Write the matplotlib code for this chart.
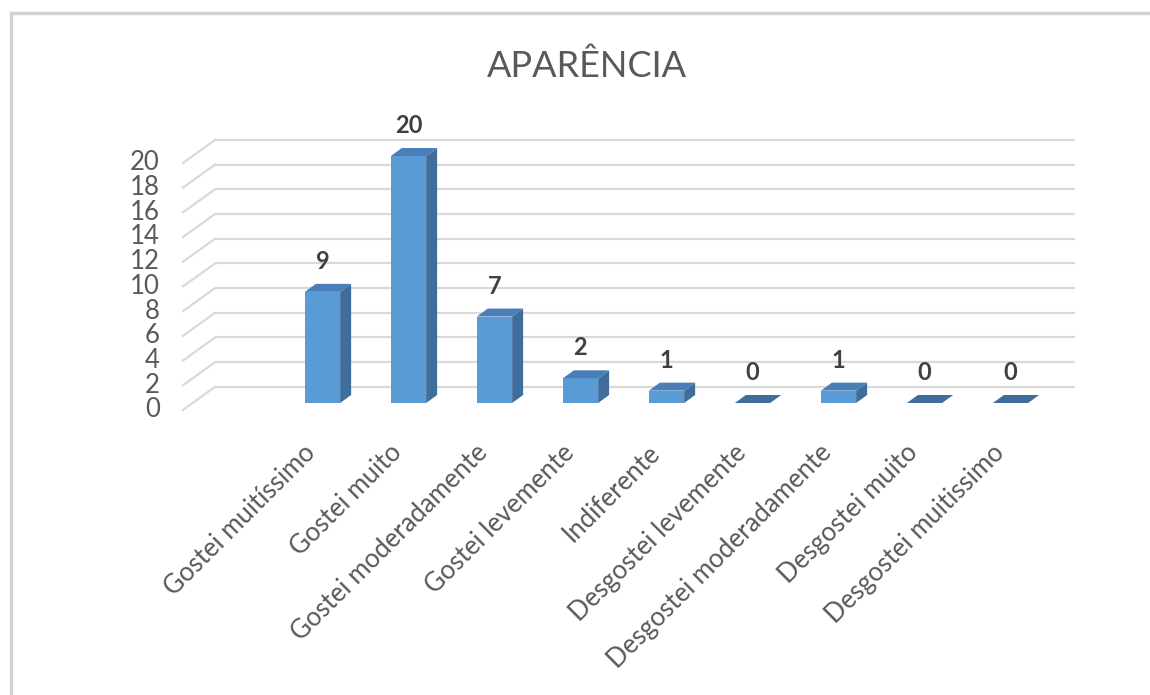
import matplotlib.pyplot as plt
from matplotlib.lines import Line2D
from matplotlib.patches import Polygon, Rectangle

plt.rcParams['font.family'] = ['Lato', 'DejaVu Sans']

categorias = [
    'Gostei muitíssimo', 'Gostei muito', 'Gostei moderadamente',
    'Gostei levemente', 'Indiferente', 'Desgostei levemente',
    'Desgostei moderadamente', 'Desgostei muito', 'Desgostei muitissimo',
]
respostas = [9, 20, 7, 2, 1, 0, 1, 0, 0]
y_ticks = list(range(0, 21, 2))

# escala: 1 categoria = 86 px, 1 unidade = 12.35 px
px_x = 86.0
px_y = 12.35
# profundidade da barra e da parede (em unidades de dados)
bar_dx, bar_dy = 11 / px_x, 8 / px_y
wall_dx, wall_dy = 22.4 / px_x, 16.1 / px_y
front_dx, front_dy = -9.6 / px_x, -6.9 / px_y
wall_x0, wall_x1 = -1.51, 8.49
largura = 0.41

cor_frente = '#5b9bd5'
cor_topo = '#4a7eb8'
cor_lado = '#3f6d9c'
cor_grade = '#d9d9d9'

fig = plt.figure(figsize=(11.5, 6.95), dpi=100)
ax = fig.add_axes([0, 0, 1, 1])
ax.set_xlim(-322.5 / px_x, (1150 - 322.5) / px_x)
ax.set_ylim((403 - 695) / px_y, 403 / px_y)
ax.axis('off')

# moldura do gráfico (só aparecem as bordas de cima e da esquerda)
topo, esq = 1 - 13 / 695, 11 / 1150
fig.add_artist(Line2D([esq, 1.0], [topo, topo], transform=fig.transFigure,
                      color='#d3d3d3', lw=2.4))
fig.add_artist(Line2D([esq, esq], [0.0, topo], transform=fig.transFigure,
                      color='#d3d3d3', lw=2.4))

# grade na parede do fundo + diagonais na parede lateral
for v in y_ticks:
    ax.plot([wall_x0 + wall_dx, wall_x1 + wall_dx], [v + wall_dy, v + wall_dy],
            color=cor_grade, lw=1.6, solid_capstyle='butt', zorder=1)
    ax.plot([wall_x0 + front_dx, wall_x0 + wall_dx], [v + front_dy, v + wall_dy],
            color=cor_grade, lw=1.6, zorder=1)
    ax.text(wall_x0 + front_dx - 0.27, v + front_dy, str(v), ha='right',
            va='center', fontsize=18.5, color='#595959')

# barras 3D
for i, v in enumerate(respostas):
    x0, x1 = i - largura / 2, i + largura / 2
    if v > 0:
        ax.add_patch(Rectangle((x0, 0), largura, v, facecolor=cor_frente,
                               edgecolor='none', zorder=3))
        ax.add_patch(Polygon([(x1, 0), (x1 + bar_dx, bar_dy),
                              (x1 + bar_dx, v + bar_dy), (x1, v)],
                             closed=True, facecolor=cor_lado,
                             edgecolor='none', zorder=3))
    ax.add_patch(Polygon([(x0, v), (x1, v), (x1 + bar_dx, v + bar_dy),
                          (x0 + bar_dx, v + bar_dy)],
                         closed=True, facecolor=cor_topo if v > 0 else cor_lado,
                         edgecolor='none', zorder=3))
    ax.annotate(str(v), (i, v), xytext=(0, 16.5), textcoords='offset points',
                ha='center', va='baseline', fontsize=17, fontweight='bold',
                color='#404040')
    ax.text(i - 0.02, -3.0, categorias[i], rotation=45, ha='right', va='top',
            fontsize=18.5, color='#595959')

fig.text(587 / 1150, 1 - 66 / 695, 'APARÊNCIA', ha='center', va='center',
         fontsize=26, color='#595959')

fig.savefig('out.png', dpi=100)
